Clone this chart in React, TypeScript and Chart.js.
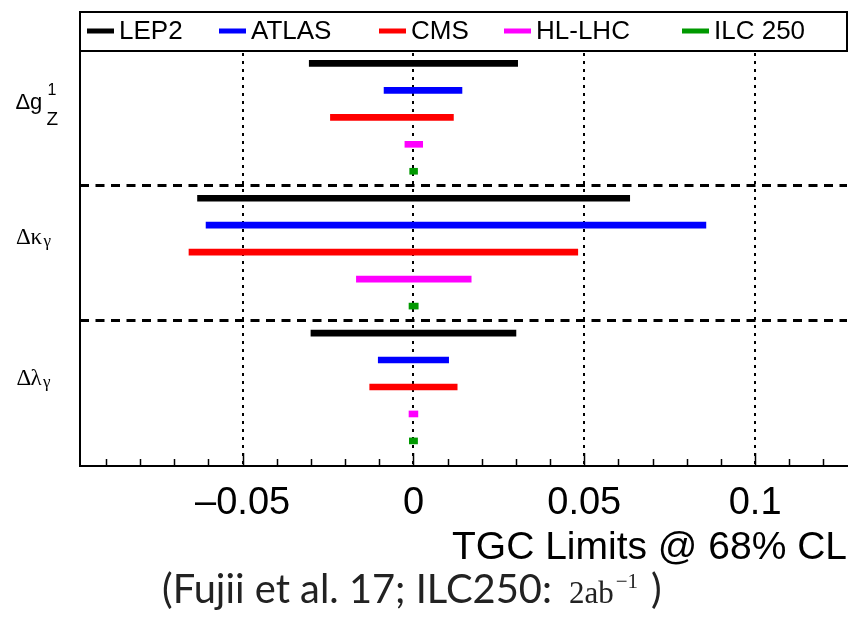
import React, { useEffect, useRef } from "react";
import { Chart, registerables } from "chart.js";

Chart.register(...registerables);

// ---------------- data ----------------
const EXPERIMENTS = ["LEP2", "ATLAS", "CMS", "HL-LHC", "ILC 250"];
const COLORS = ["#000000", "#0000ff", "#ff0000", "#ff00ff", "#009900"];
const COUPLINGS = ["Δg1Z", "Δκγ", "Δλγ"];

// 68% CL intervals, order: [Δg1Z, Δκγ, Δλγ]
const LEP2_LOW = [-0.0305, -0.0632, -0.03];
const LEP2_HIGH = [0.0305, 0.0633, 0.03];
const ATLAS_LOW = [-0.0086, -0.0607, -0.0103];
const ATLAS_HIGH = [0.0142, 0.0856, 0.0103];
const CMS_LOW = [-0.0243, -0.0657, -0.0128];
const CMS_HIGH = [0.0117, 0.0481, 0.0128];
const HLLHC_LOW = [-0.0025, -0.0167, -0.0013];
const HLLHC_HIGH = [0.0027, 0.0169, 0.0013];
const ILC250_LOW = [-0.0011, -0.0013, -0.0012];
const ILC250_HIGH = [0.0012, 0.0014, 0.0012];

const LOWS = [LEP2_LOW, ATLAS_LOW, CMS_LOW, HLLHC_LOW, ILC250_LOW];
const HIGHS = [LEP2_HIGH, ATLAS_HIGH, CMS_HIGH, HLLHC_HIGH, ILC250_HIGH];

const X_MAJOR_TICKS = [-0.05, 0, 0.05, 0.1];
const X_TICK_LABELS = ["–0.05", "0", "0.05", "0.1"];
const X_MINOR_FROM = -0.09;
const X_MINOR_TO = 0.12;
const X_MINOR_STEP = 0.01;
const X_MIN = -0.0976;
const X_MAX = 0.1269;

const X_TITLE = "TGC Limits @ 68% CL";
const CITE_SANS = "(Fujii et al. 17; ILC250:";
const CITE_SERIF = "2ab";
const CITE_SUP = "−1";
const CITE_CLOSE = ")";

const N_EXP = EXPERIMENTS.length;
const SEPARATORS = [N_EXP - 0.5, 2 * N_EXP - 0.5];

const SANS = "'Liberation Sans', Arial, Helvetica, sans-serif";
const SERIF = "'Liberation Serif', 'Times New Roman', serif";
const CM_SANS = "Lato, 'Open Sans', sans-serif";
const CM_SERIF = "'Liberation Serif', 'DejaVu Serif', serif";

const near = (a: number, b: number) => Math.abs(a - b) < 1e-6;

function minorTicks() {
  const out: { value: number }[] = [];
  const n = Math.round((X_MINOR_TO - X_MINOR_FROM) / X_MINOR_STEP);
  for (let i = 0; i <= n; i++) {
    out.push({ value: Math.round((X_MINOR_FROM + i * X_MINOR_STEP) * 1000) / 1000 });
  }
  return out;
}

// ---------------- plugins ----------------
const gridPlugin = {
  id: "rootGrid",
  beforeDatasetsDraw(chart: any) {
    const { ctx, chartArea } = chart;
    const xs = chart.scales.x;
    const ys = chart.scales.y;
    ctx.save();
    ctx.strokeStyle = "#000";
    ctx.lineWidth = 2;
    ctx.setLineDash([3, 5]);
    X_MAJOR_TICKS.forEach((v) => {
      const px = Math.round(xs.getPixelForValue(v));
      ctx.beginPath();
      ctx.moveTo(px, chartArea.top + 2);
      ctx.lineTo(px, chartArea.bottom);
      ctx.stroke();
    });
    ctx.lineWidth = 3;
    ctx.setLineDash([9, 6.5]);
    SEPARATORS.forEach((v) => {
      const py = Math.round(ys.getPixelForValue(v)) + 0.5;
      ctx.beginPath();
      ctx.moveTo(chartArea.left, py);
      ctx.lineTo(chartArea.right, py);
      ctx.stroke();
    });
    ctx.restore();
  },
  afterDraw(chart: any) {
    const { ctx, chartArea } = chart;
    const xs = chart.scales.x;
    ctx.save();
    ctx.strokeStyle = "#000";
    ctx.lineWidth = 1.5;
    xs.ticks.forEach((t: any) => {
      const px = Math.round(xs.getPixelForValue(t.value)) + 0.5;
      const major = X_MAJOR_TICKS.some((m) => near(m, t.value));
      const len = major ? 13 : 7;
      ctx.beginPath();
      ctx.moveTo(px, chartArea.bottom);
      ctx.lineTo(px, chartArea.bottom - len);
      ctx.stroke();
    });
    ctx.restore();
  },
};

const legendPlugin = {
  id: "rootLegend",
  afterDraw(chart: any) {
    const { ctx, chartArea } = chart;
    const top = 12;
    const bottom = chartArea.top;
    ctx.save();
    ctx.strokeStyle = "#000";
    ctx.lineWidth = 2;
    ctx.strokeRect(chartArea.left, top, chartArea.right - chartArea.left, bottom - top);
    const offsets = [7, 139, 299, 424, 602];
    const cy = 31;
    ctx.font = `26px ${SANS}`;
    ctx.textBaseline = "middle";
    ctx.textAlign = "left";
    chart.data.datasets.forEach((ds: any, i: number) => {
      const x0 = chartArea.left + offsets[i];
      ctx.fillStyle = ds.backgroundColor;
      ctx.fillRect(x0, cy - 2.5, 27, 5);
      ctx.fillStyle = "#000";
      ctx.fillText(ds.label, x0 + 32, cy + 1);
    });
    ctx.restore();
  },
};

const labelPlugin = {
  id: "couplingLabels",
  afterDraw(chart: any) {
    const { ctx } = chart;
    const ys = chart.scales.y;
    const center = (g: number) => ys.getPixelForValue(g * N_EXP + (N_EXP - 1) / 2);
    ctx.save();
    ctx.fillStyle = "#000";
    ctx.textBaseline = "alphabetic";
    ctx.textAlign = "left";
    const put = (t: string, x: number, y: number, font: string) => {
      ctx.font = font;
      ctx.fillText(t, x, y);
    };
    // Δg^1_Z
    let b = center(0) - 8;
    put("Δ", 15.5, b, `22px ${SANS}`);
    put("g", 30, b, `22px ${SANS}`);
    put("1", 47.5, b - 14, `16px ${SANS}`);
    put("Z", 46.5, b + 16, `19px ${SANS}`);
    // Δκ_γ
    b = center(1) - 8;
    put("Δ", 16, b, `23px ${SERIF}`);
    put("κ", 30.5, b, `23px ${SERIF}`);
    put("γ", 43.5, b + 2, `17px ${SERIF}`);
    // Δλ_γ
    b = center(2) - 1.5;
    put("Δ", 16.5, b, `23px ${SERIF}`);
    put("λ", 30.5, b, `23px ${SERIF}`);
    put("γ", 43, b + 2, `17px ${SERIF}`);
    ctx.restore();
  },
};

const citePlugin = {
  id: "citation",
  afterDraw(chart: any) {
    const { ctx } = chart;
    ctx.save();
    ctx.fillStyle = "#222";
    ctx.textBaseline = "alphabetic";
    ctx.textAlign = "left";
    const base = 603;
    let size = 34;
    ctx.font = `${size}px ${CM_SANS}`;
    const w0 = ctx.measureText(CITE_SANS).width;
    size = (size * 390) / w0;
    ctx.font = `${size}px ${CM_SANS}`;
    ctx.fillText(CITE_SANS, 162, base);
    let x = 569;
    ctx.font = `31px ${CM_SERIF}`;
    ctx.fillText(CITE_SERIF, x, base);
    x += ctx.measureText(CITE_SERIF).width + 2;
    ctx.font = `21px ${CM_SERIF}`;
    ctx.fillText(CITE_SUP, x, base - 15);
    ctx.font = `${size}px ${CM_SANS}`;
    ctx.fillText(CITE_CLOSE, 651, base);
    ctx.restore();
  },
};

// ---------------- component ----------------
export default function App() {
  const ref = useRef<HTMLCanvasElement | null>(null);

  useEffect(() => {
    document.body.style.margin = "0";
    const canvas = ref.current;
    if (!canvas) return;

    const datasets = EXPERIMENTS.map((name, e) => ({
      label: name,
      backgroundColor: COLORS[e],
      borderColor: COLORS[e],
      borderWidth: 0,
      data: COUPLINGS.map((_, g) => ({ y: g * N_EXP + e, x: [LOWS[e][g], HIGHS[e][g]] })),
    }));

    const chart = new Chart(canvas, {
      type: "bar",
      data: { datasets } as any,
      options: {
        indexAxis: "y",
        animation: false,
        responsive: false,
        devicePixelRatio: 1,
        layout: { padding: { top: 51, right: 3, left: 0, bottom: 0 } },
        datasets: { bar: { grouped: false, barThickness: 6 } } as any,
        plugins: { legend: { display: false }, tooltip: { enabled: false } },
        scales: {
          x: {
            type: "linear",
            position: "bottom",
            min: X_MIN,
            max: X_MAX,
            offset: false,
            afterBuildTicks: (s: any) => {
              s.ticks = minorTicks();
            },
            afterFit: (s: any) => {
              s.height = 155;
            },
            ticks: {
              autoSkip: false,
              maxRotation: 0,
              padding: 7,
              color: "#000",
              font: { family: SANS, size: 38 },
              callback: (v: any) => {
                const i = X_MAJOR_TICKS.findIndex((m) => near(m, Number(v)));
                return i >= 0 ? X_TICK_LABELS[i] : "";
              },
            },
            grid: { display: false, offset: false },
            border: { display: true, color: "#000", width: 2 },
            title: {
              display: true,
              text: X_TITLE,
              align: "end",
              color: "#000",
              font: { family: SANS, size: 39 },
              padding: { top: 0, bottom: 49 },
            },
          },
          y: {
            type: "linear",
            min: -0.46,
            max: 14.93,
            reverse: true,
            offset: false,
            afterFit: (s: any) => {
              s.width = 80;
            },
            ticks: { display: false },
            grid: { display: false, offset: false },
            border: { display: true, color: "#000", width: 2 },
          },
        },
      } as any,
      plugins: [gridPlugin, legendPlugin, labelPlugin, citePlugin],
    });

    return () => chart.destroy();
  }, []);

  return (
    <div style={{ width: 850, height: 621, background: "#fff" }}>
      <canvas ref={ref} width={850} height={621} style={{ display: "block" }} />
    </div>
  );
}
